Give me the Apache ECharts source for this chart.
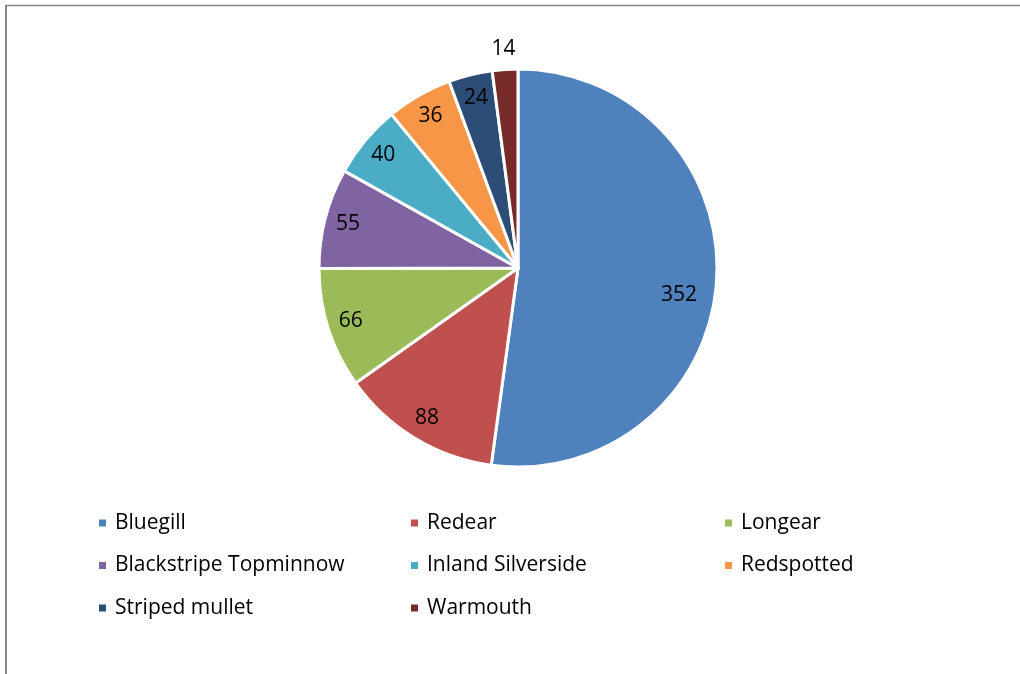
<!DOCTYPE html>
<html>
<head>
<meta charset="utf-8">
<script src="https://cdn.jsdelivr.net/npm/echarts@6/dist/echarts.min.js"></script>
<style>
html,body{margin:0;padding:0;background:#fff;}
#chart{width:1020px;height:674px;}
</style>
</head>
<body>
<div id="chart"></div>
<script>
const categories = ['Bluegill','Redear','Longear','Blackstripe Topminnow','Inland Silverside','Redspotted','Striped mullet','Warmouth'];
const values = [352, 88, 66, 55, 40, 36, 24, 14];
const colors = ['#4F81BD','#C0504D','#9BBB59','#8064A2','#4BACC6','#F79646','#2C4D75','#772C2A'];
const legendColumns = [
  ['Bluegill','Blackstripe Topminnow','Striped mullet'],
  ['Redear','Inland Silverside','Warmouth'],
  ['Longear','Redspotted']
];

const FONT = 'Open Sans';
const chart = echarts.init(document.getElementById('chart'), null, {renderer:'canvas'});

const pieData = categories.map((c,i)=>({name:c, value:values[i], itemStyle:{color:colors[i]}}));
const labelTweaks = {
  'Bluegill': {formatter:' \n{c}', lineHeight:30, padding:[0,28,0,0]},
  'Warmouth': {formatter:'{c}\n \n \n \n ', lineHeight:22, padding:[0,6,0,0]}
};
const labelData = categories.map((c,i)=>{
  const d = {name:c, value:values[i]};
  if (labelTweaks[c]) d.label = labelTweaks[c];
  return d;
});

const legendX = [92, 404, 718];
const legends = legendColumns.map((col,i)=>({
  orient:'vertical',
  left: legendX[i],
  top: 507,
  data: col,
  icon: 'rect',
  itemWidth: 9,
  itemHeight: 9,
  itemGap: 20.5,
  selectedMode: false,
  textStyle: {fontFamily: FONT, fontSize: 21, color:'#000', lineHeight:22, padding:[0,0,0,3]}
}));

chart.setOption({
  animation:false,
  color: colors,
  graphic: [
    {type:'line', shape:{x1:5, y1:5.5, x2:1020, y2:5.5}, style:{stroke:'#868686', lineWidth:1.5}},
    {type:'line', shape:{x1:6, y1:5, x2:6, y2:674}, style:{stroke:'#868686', lineWidth:2}}
  ],
  legend: legends,
  series: [
    {
      type:'pie',
      center:[518, 268],
      radius:[0, 199],
      startAngle:90,
      clockwise:true,
      label:{show:false},
      labelLine:{show:false},
      itemStyle:{borderColor:'#fff', borderWidth:3},
      emphasis:{disabled:true},
      data: pieData
    },
    {
      type:'pie',
      center:[518, 268],
      radius:[145, 200],
      startAngle:90,
      clockwise:true,
      silent:true,
      legendHoverLink:false,
      itemStyle:{color:'rgba(0,0,0,0)', borderWidth:0},
      label:{show:true, position:'inside', formatter:'{c}', fontFamily:FONT, fontSize:21, color:'#000'},
      labelLine:{show:false},
      emphasis:{disabled:true},
      data: labelData
    }
  ]
});
</script>
</body>
</html>
